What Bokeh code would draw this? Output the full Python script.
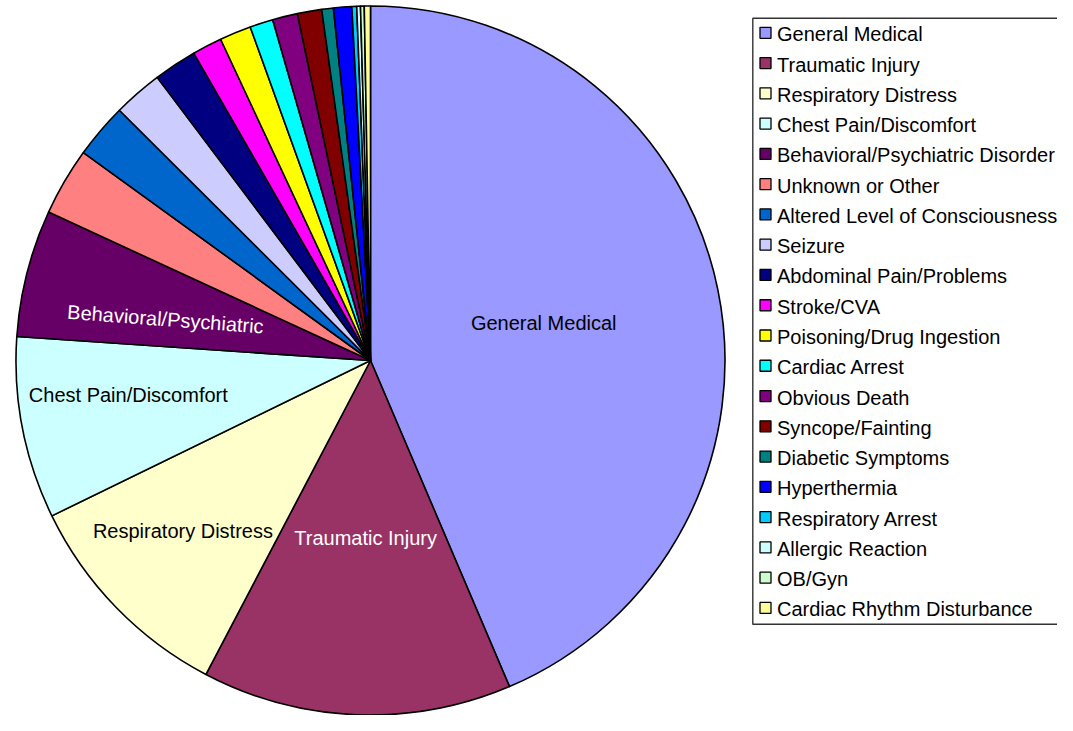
import numpy as np
from bokeh.plotting import figure
from bokeh.models import ColumnDataSource, Range1d
from bokeh.core.properties import value
from bokeh.embed import file_html
from bokeh.resources import INLINE

# ---------------- data ----------------
categories = [
    "General Medical", "Traumatic Injury", "Respiratory Distress",
    "Chest Pain/Discomfort", "Behavioral/Psychiatric Disorder",
    "Unknown or Other", "Altered Level of Consciousness", "Seizure",
    "Abdominal Pain/Problems", "Stroke/CVA", "Poisoning/Drug Ingestion",
    "Cardiac Arrest", "Obvious Death", "Syncope/Fainting",
    "Diabetic Symptoms", "Hyperthermia", "Respiratory Arrest",
    "Allergic Reaction", "OB/Gyn", "Cardiac Rhythm Disturbance",
]
percent = [43.6, 14.1, 10.1, 8.3, 5.8, 3.1, 2.5, 2.25, 1.97, 1.36,
           1.44, 1.06, 1.14, 1.11, 0.53, 0.83, 0.22, 0.17, 0.17, 0.28]
colors = ["#9999FF", "#993366", "#FFFFCC", "#CCFFFF", "#660066",
          "#FF8080", "#0066CC", "#CCCCFF", "#000080", "#FF00FF",
          "#FFFF00", "#00FFFF", "#800080", "#800000", "#008080",
          "#0000FF", "#00CCFF", "#CCFFFF", "#CCFFCC", "#FFFF99"]
slice_labels = ["General Medical", "Traumatic Injury", "Respiratory Distress",
                "Chest Pain/Discomfort", "Behavioral/Psychiatric"]

# ---------------- style ----------------
W, H = 1057, 715
FONT = value("Liberation Sans")
cx, cy, R = 370.0, H - 360.0, 354.5
label_rfrac = [0.50, 0.50, 0.715, 0.69, 0.59]
label_dang = [-0.7, -0.7, 1.9, 3.0, -2.9]          # degrees, clockwise
label_colors = ["black", "white", "black", "black", "white"]
label_rot = [0.0, 0.0, 0.0, 0.0, -0.075]

vals = np.array(percent, dtype=float)
frac = vals / vals.sum()
cum = np.concatenate([[0.0], np.cumsum(frac)])
start = np.pi / 2 - 2 * np.pi * cum[:-1]
end = np.pi / 2 - 2 * np.pi * cum[1:]

src = ColumnDataSource(dict(cat=categories, start=start, end=end, color=colors))

p = figure(width=W, height=H, x_range=Range1d(0, W), y_range=Range1d(0, H),
           output_backend="svg", toolbar_location=None, min_border=0,
           background_fill_color="white", border_fill_color="white")
p.axis.visible = False
p.grid.visible = False
p.outline_line_color = None

p.wedge(x=cx, y=cy, radius=R, start_angle="start", end_angle="end",
        direction="clock", fill_color="color", line_color="black",
        line_width=1.6, source=src)

# slice labels
lx, ly = [], []
for i in range(len(slice_labels)):
    mid_cw = (cum[i] + cum[i + 1]) / 2 * 360 + label_dang[i]
    th = np.deg2rad(mid_cw)
    r = label_rfrac[i] * R
    lx.append(cx + r * np.sin(th))
    ly.append(cy + r * np.cos(th))
lab_src = ColumnDataSource(dict(x=lx, y=ly, text=slice_labels,
                                color=label_colors, angle=label_rot))
p.text(x="x", y="y", text="text", angle="angle", text_color="color",
       text_font=FONT, text_font_size="20px", text_align="center",
       text_baseline="middle", source=lab_src)

# legend (manual)
p.quad(left=752.3, right=1075, top=H - 17.7, bottom=H - 623.7,
       fill_color="white", line_color="#333333", line_width=1.4)
pitch = 30.27
ly0 = H - 32.3
n = len(categories)
leg_y = [ly0 - i * pitch for i in range(n)]
leg_src = ColumnDataSource(dict(y=leg_y, ty=[v - 1.5 for v in leg_y],
                                text=categories, color=colors))
p.rect(x=765, y="y", width=11, height=11, fill_color="color",
       line_color="black", line_width=1.3, source=leg_src)
p.text(x=776.5, y="ty", text="text", text_color="black", text_font=FONT,
       text_font_size="20px", text_align="left", text_baseline="middle",
       source=leg_src)

open("out.html", "w").write(file_html(p, INLINE))
